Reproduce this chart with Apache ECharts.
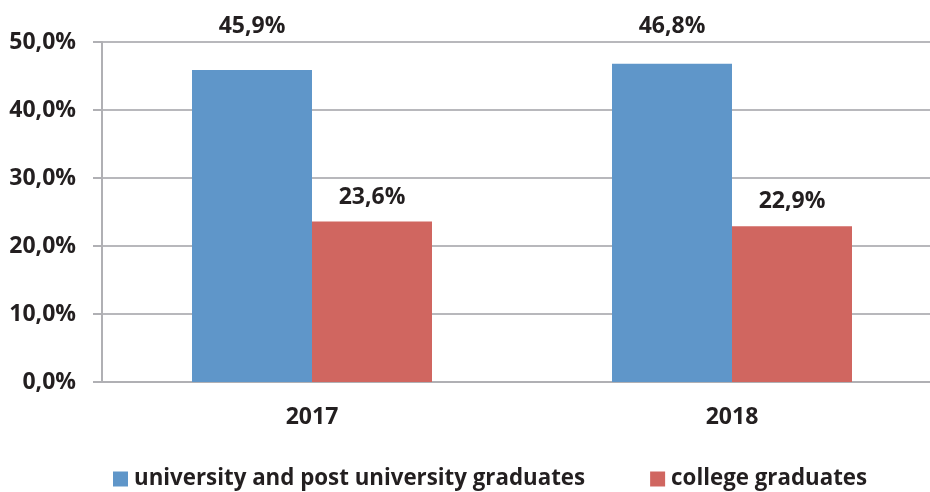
<!DOCTYPE html>
<html>
<head>
<meta charset="utf-8">
<script src="https://cdn.jsdelivr.net/npm/echarts@6/dist/echarts.min.js"></script>
<style>html,body{margin:0;padding:0;background:#fff;overflow:hidden}#c{width:942px;height:492px}</style>
</head>
<body>
<div id="c"></div>
<script>
var categories = ['2017', '2018'];
var universityValues = [45.9, 46.8];
var collegeValues = [23.6, 22.9];
var seriesNames = ['university and post university graduates', 'college graduates'];
var yTicks = [0, 10, 20, 30, 40, 50];

function pct(v) { return v.toFixed(1).replace('.', ',') + '%'; }

var FONT = 'Open Sans';
var INK = '#231f20';
var labelBase = {show: true, position: 'top', fontFamily: FONT, fontWeight: 'bold', fontSize: 23, color: INK,
  formatter: function (p) { return pct(p.value); }};
// blue labels sit at a common height above the plot in the reference
var blueDistances = [32, 26];

var chart = echarts.init(document.getElementById('c'), null, {renderer: 'canvas'});
chart.setOption({
  animation: false,
  textStyle: {fontFamily: FONT},
  grid: {left: 102, top: 42, width: 840, height: 340, containLabel: false},
  legend: {
    left: 108, top: 463,
    itemWidth: 15, itemHeight: 15, itemGap: 65,
    icon: 'rect',
    textStyle: {fontFamily: FONT, fontWeight: 'bold', fontSize: 22.3, color: INK, padding: [0, 0, 0, 1]},
    data: seriesNames
  },
  xAxis: {
    type: 'category',
    data: categories,
    axisLine: {lineStyle: {color: '#b0b0b4', width: 2}},
    axisTick: {show: false},
    axisLabel: {fontFamily: FONT, fontWeight: 'bold', fontSize: 23, color: INK, margin: 24}
  },
  yAxis: {
    type: 'value', min: yTicks[0], max: yTicks[yTicks.length - 1], interval: 10,
    axisLine: {show: true, lineStyle: {color: '#b0b0b4', width: 2}},
    axisTick: {show: true, length: 9, lineStyle: {color: '#b0b0b4', width: 2}},
    splitLine: {lineStyle: {color: '#b8b8bc', width: 2}},
    axisLabel: {fontFamily: FONT, fontWeight: 'bold', fontSize: 23, color: INK, margin: 26,
      formatter: function (v) { return pct(v); }}
  },
  series: [
    {
      name: seriesNames[0], type: 'bar',
      data: universityValues.map(function (v, i) { return {value: v, label: {distance: blueDistances[i]}}; }),
      barWidth: 120, barGap: '0%',
      itemStyle: {color: '#5f96c9'},
      label: labelBase
    },
    {
      name: seriesNames[1], type: 'bar', data: collegeValues,
      barWidth: 120, barGap: '0%',
      itemStyle: {color: '#d06660'},
      label: Object.assign({}, labelBase, {distance: 13})
    }
  ]
});
</script>
</body>
</html>
